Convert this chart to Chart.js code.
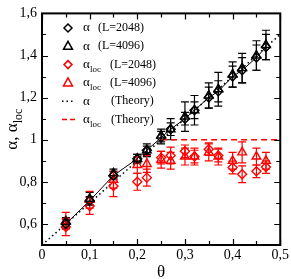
<!DOCTYPE html>
<html>
<head>
<meta charset="utf-8">
<script src="https://cdn.jsdelivr.net/npm/chart.js@4.4.0/dist/chart.umd.min.js"></script>
<style>
  html, body { margin: 0; padding: 0; background: #fff; }
  #wrap { width: 291px; height: 279px; position: relative; }
</style>
</head>
<body>
<div id="wrap"><canvas id="chart"></canvas></div>
<script>
// data
const theta = [0.05, 0.1, 0.15, 0.2, 0.22, 0.25, 0.27, 0.3, 0.32, 0.35, 0.37, 0.4, 0.42, 0.45, 0.47];

const alpha2048 = [0.60, 0.71, 0.83, 0.91, 0.95, 1.01, 1.05, 1.10, 1.14, 1.20, 1.23, 1.30, 1.33, 1.39, 1.44];
const alpha2048Err = [0.02, 0.02, 0.02, 0.02, 0.02, 0.03, 0.03, 0.03, 0.04, 0.05, 0.05, 0.05, 0.06, 0.06, 0.06];
const alpha4096 = [0.61, 0.72, 0.84, 0.91, 0.95, 1.02, 1.05, 1.11, 1.14, 1.21, 1.24, 1.31, 1.34, 1.40, 1.45];
const alpha4096Err = [0.02, 0.03, 0.02, 0.02, 0.03, 0.03, 0.05, 0.07, 0.07, 0.06, 0.08, 0.06, 0.07, 0.07, 0.07];

const loc2048 = [0.585, 0.685, 0.78, 0.80, 0.82, 0.915, 0.925, 0.945, 0.92, 0.955, 0.925, 0.868, 0.836, 0.85, 0.87];
const loc2048Err = [0.04, 0.04, 0.05, 0.04, 0.04, 0.03, 0.04, 0.03, 0.03, 0.03, 0.03, 0.03, 0.04, 0.03, 0.03];
const loc4096 = [0.615, 0.715, 0.81, 0.88, 0.885, 0.905, 0.90, 0.92, 0.92, 0.94, 0.92, 0.90, 0.94, 0.92, 0.90];
const loc4096Err = [0.04, 0.04, 0.04, 0.04, 0.04, 0.04, 0.04, 0.04, 0.04, 0.04, 0.04, 0.04, 0.05, 0.04, 0.04];

// theory lines (end points)
const theoryX = [0, 0.5];
const theoryAlpha = [0.5, 1.5];
const theoryLocX = [0.25, 0.5];
const theoryLoc = [1, 1];

const xTicks = [0, 0.1, 0.2, 0.3, 0.4, 0.5];
const xMinor = [0.05, 0.15, 0.25, 0.35, 0.45];
const yTicks = [0.6, 0.8, 1, 1.2, 1.4, 1.6];
const yMinor = [0.7, 0.9, 1.1, 1.3, 1.5];

const RED = '#ff0000';
const SERIF = '"Liberation Serif", "DejaVu Serif", serif';

const pts = (xs, ys) => xs.map((x, i) => ({ x: x, y: ys[i] }));
const fmt = v => String(Number(v.toFixed(2))).replace('.', ',');

// error bars, inner ticks, frame, titles and legend
const extras = {
    id: 'extras',
    beforeDatasetsDraw(chart) {
        const ctx = chart.ctx;
        const xs = chart.scales.x, ys = chart.scales.y;
        chart.data.datasets.forEach(ds => {
            if (!ds.errors) return;
            ctx.save();
            ctx.strokeStyle = ds.borderColor;
            ctx.lineWidth = 1.2;
            ds.data.forEach((p, i) => {
                const e = ds.errors[i];
                const px = xs.getPixelForValue(p.x);
                const y1 = ys.getPixelForValue(p.y - e);
                const y2 = ys.getPixelForValue(p.y + e);
                ctx.beginPath();
                ctx.moveTo(px, y1); ctx.lineTo(px, y2);
                ctx.moveTo(px - 4, y1); ctx.lineTo(px + 4, y1);
                ctx.moveTo(px - 4, y2); ctx.lineTo(px + 4, y2);
                ctx.stroke();
            });
            ctx.restore();
        });
    },
    afterDraw(chart) {
        const ctx = chart.ctx;
        const a = chart.chartArea;
        const xs = chart.scales.x, ys = chart.scales.y;
        ctx.save();
        ctx.strokeStyle = '#000';
        ctx.lineWidth = 1.2;
        ctx.beginPath();
        const tickX = (v, len) => {
            const px = Math.round(xs.getPixelForValue(v)) + 0.5;
            ctx.moveTo(px, a.bottom); ctx.lineTo(px, a.bottom - len);
            ctx.moveTo(px, a.top); ctx.lineTo(px, a.top + len);
        };
        const tickY = (v, len) => {
            const py = Math.round(ys.getPixelForValue(v)) + 0.5;
            ctx.moveTo(a.left, py); ctx.lineTo(a.left + len, py);
            ctx.moveTo(a.right, py); ctx.lineTo(a.right - len, py);
        };
        xTicks.forEach(v => tickX(v, 6));
        xMinor.forEach(v => tickX(v, 4));
        yTicks.forEach(v => tickY(v, 6));
        yMinor.forEach(v => tickY(v, 4));
        ctx.stroke();

        ctx.lineWidth = 2;
        ctx.strokeRect(a.left, a.top, a.right - a.left, a.bottom - a.top);

        // axis titles
        ctx.fillStyle = '#000';
        ctx.font = '17px ' + SERIF;
        ctx.textAlign = 'center';
        ctx.textBaseline = 'alphabetic';
        ctx.fillText('θ', (a.left + a.right) / 2, 277);

        ctx.save();
        ctx.translate(17, (a.top + a.bottom) / 2);
        ctx.rotate(-Math.PI / 2);
        ctx.textAlign = 'left';
        ctx.font = '17px ' + SERIF;
        const main = 'α, α';
        const w1 = ctx.measureText(main).width;
        ctx.font = '12px ' + SERIF;
        const w2 = ctx.measureText('loc').width;
        const x0 = -(w1 + w2) / 2;
        ctx.font = '17px ' + SERIF;
        ctx.fillText(main, x0, 0);
        ctx.font = '12px ' + SERIF;
        ctx.fillText('loc', x0 + w1, 5);
        ctx.restore();

        // legend
        const rows = [
            { kind: 'diamond', color: '#000', sub: false, label: '(L=2048)' },
            { kind: 'triangle', color: '#000', sub: false, label: '(L=4096)' },
            { kind: 'diamond', color: RED, sub: true, label: '(L=2048)' },
            { kind: 'triangle', color: RED, sub: true, label: '(L=4096)' },
            { kind: 'dotted', color: '#000', sub: false, label: '(Theory)' },
            { kind: 'dashed', color: RED, sub: true, label: '(Theory)' }
        ];
        rows.forEach((r, i) => {
            const cy = 28 + i * 18.3;
            const cx = 68;
            ctx.strokeStyle = r.color;
            ctx.lineWidth = 1.5;
            ctx.beginPath();
            if (r.kind === 'diamond') {
                ctx.moveTo(cx, cy - 4); ctx.lineTo(cx + 4, cy);
                ctx.lineTo(cx, cy + 4); ctx.lineTo(cx - 4, cy); ctx.closePath();
            } else if (r.kind === 'triangle') {
                ctx.moveTo(cx, cy - 5); ctx.lineTo(cx + 4.5, cy + 3);
                ctx.lineTo(cx - 4.5, cy + 3); ctx.closePath();
            } else {
                ctx.setLineDash(r.kind === 'dotted' ? [1.5, 3] : [5, 3]);
                ctx.moveTo(62, cy); ctx.lineTo(r.kind === 'dotted' ? 74 : 78, cy);
            }
            ctx.stroke();
            ctx.setLineDash([]);

            ctx.fillStyle = '#000';
            ctx.textAlign = 'left';
            ctx.textBaseline = 'middle';
            ctx.font = '13px ' + SERIF;
            ctx.fillText('α', 83, cy);
            if (r.sub) {
                ctx.font = '9px ' + SERIF;
                ctx.fillText('loc', 90, cy + 5);
            }
            ctx.font = '12px ' + SERIF;
            let lx = r.sub ? 110 : 98;
            if (r.label === '(Theory)') lx = 111;
            ctx.fillText(r.label, lx, cy);
        });
        ctx.restore();
    }
};

const markerSet = (label, ys, errs, color, style, radius, line) => ({
    label: label,
    data: pts(theta, ys),
    errors: errs,
    borderColor: color,
    backgroundColor: 'rgba(0,0,0,0)',
    pointStyle: style,
    pointRadius: radius,
    pointBorderWidth: 1.4,
    pointBorderColor: color,
    pointBackgroundColor: 'rgba(0,0,0,0)',
    showLine: line,
    borderWidth: 1
});

new Chart(document.getElementById('chart'), {
    type: 'scatter',
    data: {
        datasets: [
            markerSet('α (L=2048)', alpha2048, alpha2048Err, '#000', 'rectRot', 4.5, true),
            markerSet('α (L=4096)', alpha4096, alpha4096Err, '#000', 'triangle', 5, false),
            markerSet('αloc (L=2048)', loc2048, loc2048Err, RED, 'rectRot', 4.5, false),
            markerSet('αloc (L=4096)', loc4096, loc4096Err, RED, 'triangle', 5, false),
            {
                label: 'α (Theory)',
                data: pts(theoryX, theoryAlpha),
                showLine: true,
                borderColor: '#000',
                borderWidth: 1.5,
                borderDash: [1.5, 3],
                pointRadius: 0
            },
            {
                label: 'αloc (Theory)',
                data: pts(theoryLocX, theoryLoc),
                showLine: true,
                borderColor: RED,
                borderWidth: 1.5,
                borderDash: [6, 4],
                pointRadius: 0
            }
        ]
    },
    options: {
        responsive: true,
        maintainAspectRatio: false,
        animation: false,
        layout: { padding: { top: 6, right: 10, left: 0, bottom: 0 } },
        plugins: { legend: { display: false }, tooltip: { enabled: false } },
        scales: {
            x: {
                type: 'linear',
                min: 0,
                max: 0.5,
                afterBuildTicks: s => { s.ticks = xTicks.map(v => ({ value: v })); },
                afterFit: s => { s.height = 34; },
                grid: { display: false, drawTicks: false },
                border: { display: false },
                ticks: {
                    padding: 2,
                    maxRotation: 0,
                    autoSkip: false,
                    color: '#000',
                    font: { family: SERIF, size: 14 },
                    callback: v => fmt(v)
                }
            },
            y: {
                type: 'linear',
                min: 0.5,
                max: 1.6,
                afterBuildTicks: s => { s.ticks = yTicks.map(v => ({ value: v })); },
                afterFit: s => { s.width = 42; },
                grid: { display: false, drawTicks: false },
                border: { display: false },
                ticks: {
                    padding: 5,
                    autoSkip: false,
                    color: '#000',
                    font: { family: SERIF, size: 14 },
                    callback: v => fmt(v)
                }
            }
        }
    },
    plugins: [extras]
});
</script>
</body>
</html>
